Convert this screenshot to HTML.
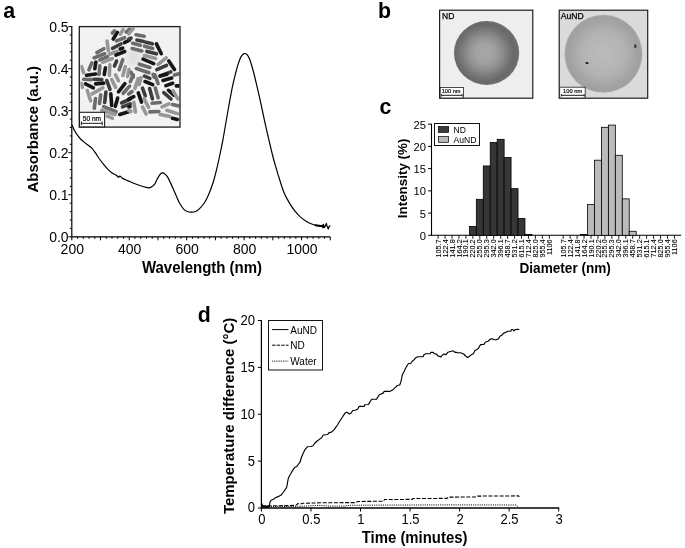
<!DOCTYPE html>
<html><head><meta charset="utf-8"><style>
html,body{margin:0;padding:0;background:#fff;}
svg{display:block;font-family:"Liberation Sans", sans-serif;will-change:transform;}
</style></head><body>
<svg width="685" height="548" viewBox="0 0 685 548">
<text x="3.2" y="17.7" font-size="21.3" text-anchor="start" font-weight="bold" fill="#000" >a</text>
<line x1="71.8" y1="26.1" x2="71.8" y2="237.3" stroke="#000" stroke-width="1.2" />
<line x1="71.3" y1="236.8" x2="330.28" y2="236.8" stroke="#000" stroke-width="1.2" />
<line x1="68.3" y1="236.8" x2="71.8" y2="236.8" stroke="#000" stroke-width="1" />
<line x1="69.8" y1="228.39" x2="71.8" y2="228.39" stroke="#000" stroke-width="1" />
<line x1="69.8" y1="219.98" x2="71.8" y2="219.98" stroke="#000" stroke-width="1" />
<line x1="69.8" y1="211.58" x2="71.8" y2="211.58" stroke="#000" stroke-width="1" />
<line x1="69.8" y1="203.17" x2="71.8" y2="203.17" stroke="#000" stroke-width="1" />
<line x1="68.3" y1="194.76" x2="71.8" y2="194.76" stroke="#000" stroke-width="1" />
<line x1="69.8" y1="186.35" x2="71.8" y2="186.35" stroke="#000" stroke-width="1" />
<line x1="69.8" y1="177.94" x2="71.8" y2="177.94" stroke="#000" stroke-width="1" />
<line x1="69.8" y1="169.54" x2="71.8" y2="169.54" stroke="#000" stroke-width="1" />
<line x1="69.8" y1="161.13" x2="71.8" y2="161.13" stroke="#000" stroke-width="1" />
<line x1="68.3" y1="152.72" x2="71.8" y2="152.72" stroke="#000" stroke-width="1" />
<line x1="69.8" y1="144.31" x2="71.8" y2="144.31" stroke="#000" stroke-width="1" />
<line x1="69.8" y1="135.9" x2="71.8" y2="135.9" stroke="#000" stroke-width="1" />
<line x1="69.8" y1="127.5" x2="71.8" y2="127.5" stroke="#000" stroke-width="1" />
<line x1="69.8" y1="119.09" x2="71.8" y2="119.09" stroke="#000" stroke-width="1" />
<line x1="68.3" y1="110.68" x2="71.8" y2="110.68" stroke="#000" stroke-width="1" />
<line x1="69.8" y1="102.27" x2="71.8" y2="102.27" stroke="#000" stroke-width="1" />
<line x1="69.8" y1="93.86" x2="71.8" y2="93.86" stroke="#000" stroke-width="1" />
<line x1="69.8" y1="85.46" x2="71.8" y2="85.46" stroke="#000" stroke-width="1" />
<line x1="69.8" y1="77.05" x2="71.8" y2="77.05" stroke="#000" stroke-width="1" />
<line x1="68.3" y1="68.64" x2="71.8" y2="68.64" stroke="#000" stroke-width="1" />
<line x1="69.8" y1="60.23" x2="71.8" y2="60.23" stroke="#000" stroke-width="1" />
<line x1="69.8" y1="51.82" x2="71.8" y2="51.82" stroke="#000" stroke-width="1" />
<line x1="69.8" y1="43.42" x2="71.8" y2="43.42" stroke="#000" stroke-width="1" />
<line x1="69.8" y1="35.01" x2="71.8" y2="35.01" stroke="#000" stroke-width="1" />
<line x1="68.3" y1="26.6" x2="71.8" y2="26.6" stroke="#000" stroke-width="1" />
<line x1="71.8" y1="236.8" x2="71.8" y2="240.3" stroke="#000" stroke-width="1" />
<line x1="77.54" y1="236.8" x2="77.54" y2="238.8" stroke="#000" stroke-width="1" />
<line x1="83.29" y1="236.8" x2="83.29" y2="238.8" stroke="#000" stroke-width="1" />
<line x1="89.03" y1="236.8" x2="89.03" y2="238.8" stroke="#000" stroke-width="1" />
<line x1="94.78" y1="236.8" x2="94.78" y2="238.8" stroke="#000" stroke-width="1" />
<line x1="100.52" y1="236.8" x2="100.52" y2="240.3" stroke="#000" stroke-width="1" />
<line x1="106.26" y1="236.8" x2="106.26" y2="238.8" stroke="#000" stroke-width="1" />
<line x1="112.01" y1="236.8" x2="112.01" y2="238.8" stroke="#000" stroke-width="1" />
<line x1="117.75" y1="236.8" x2="117.75" y2="238.8" stroke="#000" stroke-width="1" />
<line x1="123.5" y1="236.8" x2="123.5" y2="238.8" stroke="#000" stroke-width="1" />
<line x1="129.24" y1="236.8" x2="129.24" y2="240.3" stroke="#000" stroke-width="1" />
<line x1="134.98" y1="236.8" x2="134.98" y2="238.8" stroke="#000" stroke-width="1" />
<line x1="140.73" y1="236.8" x2="140.73" y2="238.8" stroke="#000" stroke-width="1" />
<line x1="146.47" y1="236.8" x2="146.47" y2="238.8" stroke="#000" stroke-width="1" />
<line x1="152.22" y1="236.8" x2="152.22" y2="238.8" stroke="#000" stroke-width="1" />
<line x1="157.96" y1="236.8" x2="157.96" y2="240.3" stroke="#000" stroke-width="1" />
<line x1="163.7" y1="236.8" x2="163.7" y2="238.8" stroke="#000" stroke-width="1" />
<line x1="169.45" y1="236.8" x2="169.45" y2="238.8" stroke="#000" stroke-width="1" />
<line x1="175.19" y1="236.8" x2="175.19" y2="238.8" stroke="#000" stroke-width="1" />
<line x1="180.94" y1="236.8" x2="180.94" y2="238.8" stroke="#000" stroke-width="1" />
<line x1="186.68" y1="236.8" x2="186.68" y2="240.3" stroke="#000" stroke-width="1" />
<line x1="192.42" y1="236.8" x2="192.42" y2="238.8" stroke="#000" stroke-width="1" />
<line x1="198.17" y1="236.8" x2="198.17" y2="238.8" stroke="#000" stroke-width="1" />
<line x1="203.91" y1="236.8" x2="203.91" y2="238.8" stroke="#000" stroke-width="1" />
<line x1="209.66" y1="236.8" x2="209.66" y2="238.8" stroke="#000" stroke-width="1" />
<line x1="215.4" y1="236.8" x2="215.4" y2="240.3" stroke="#000" stroke-width="1" />
<line x1="221.14" y1="236.8" x2="221.14" y2="238.8" stroke="#000" stroke-width="1" />
<line x1="226.89" y1="236.8" x2="226.89" y2="238.8" stroke="#000" stroke-width="1" />
<line x1="232.63" y1="236.8" x2="232.63" y2="238.8" stroke="#000" stroke-width="1" />
<line x1="238.38" y1="236.8" x2="238.38" y2="238.8" stroke="#000" stroke-width="1" />
<line x1="244.12" y1="236.8" x2="244.12" y2="240.3" stroke="#000" stroke-width="1" />
<line x1="249.86" y1="236.8" x2="249.86" y2="238.8" stroke="#000" stroke-width="1" />
<line x1="255.61" y1="236.8" x2="255.61" y2="238.8" stroke="#000" stroke-width="1" />
<line x1="261.35" y1="236.8" x2="261.35" y2="238.8" stroke="#000" stroke-width="1" />
<line x1="267.1" y1="236.8" x2="267.1" y2="238.8" stroke="#000" stroke-width="1" />
<line x1="272.84" y1="236.8" x2="272.84" y2="240.3" stroke="#000" stroke-width="1" />
<line x1="278.58" y1="236.8" x2="278.58" y2="238.8" stroke="#000" stroke-width="1" />
<line x1="284.33" y1="236.8" x2="284.33" y2="238.8" stroke="#000" stroke-width="1" />
<line x1="290.07" y1="236.8" x2="290.07" y2="238.8" stroke="#000" stroke-width="1" />
<line x1="295.82" y1="236.8" x2="295.82" y2="238.8" stroke="#000" stroke-width="1" />
<line x1="301.56" y1="236.8" x2="301.56" y2="240.3" stroke="#000" stroke-width="1" />
<line x1="307.3" y1="236.8" x2="307.3" y2="238.8" stroke="#000" stroke-width="1" />
<line x1="313.05" y1="236.8" x2="313.05" y2="238.8" stroke="#000" stroke-width="1" />
<line x1="318.79" y1="236.8" x2="318.79" y2="238.8" stroke="#000" stroke-width="1" />
<line x1="324.54" y1="236.8" x2="324.54" y2="238.8" stroke="#000" stroke-width="1" />
<line x1="330.28" y1="236.8" x2="330.28" y2="240.3" stroke="#000" stroke-width="1" />
<text x="68.6" y="242" font-size="14" text-anchor="end" fill="#000" >0.0</text>
<text x="68.6" y="199.96" font-size="14" text-anchor="end" fill="#000" >0.1</text>
<text x="68.6" y="157.92" font-size="14" text-anchor="end" fill="#000" >0.2</text>
<text x="68.6" y="115.88" font-size="14" text-anchor="end" fill="#000" >0.3</text>
<text x="68.6" y="73.84" font-size="14" text-anchor="end" fill="#000" >0.4</text>
<text x="68.6" y="31.8" font-size="14" text-anchor="end" fill="#000" >0.5</text>
<text x="72.3" y="253.6" font-size="14" text-anchor="middle" fill="#000" >200</text>
<text x="129.74" y="253.6" font-size="14" text-anchor="middle" fill="#000" >400</text>
<text x="187.18" y="253.6" font-size="14" text-anchor="middle" fill="#000" >600</text>
<text x="244.62" y="253.6" font-size="14" text-anchor="middle" fill="#000" >800</text>
<text x="302.06" y="253.6" font-size="14" text-anchor="middle" fill="#000" >1000</text>
<text x="0" y="0" font-size="15" text-anchor="middle" font-weight="bold" transform="translate(202 273.3) scale(1 1.06)" fill="#000" >Wavelength (nm)</text>
<text x="0" y="0" font-size="15" text-anchor="middle" font-weight="bold" transform="translate(38.3 129.2) rotate(-90) scale(1 0.94)" fill="#000" >Absorbance (a.u.)</text>
<path d="M72.1 125.08 C72.45 125.91 73.4 128.49 74.2 130.04 C75 131.59 75.88 132.95 76.9 134.4 C77.92 135.85 79.05 137.39 80.3 138.72 C81.55 140.05 83.03 141.25 84.4 142.36 C85.77 143.48 87.25 144.44 88.5 145.41 C89.75 146.38 90.75 146.92 91.9 148.18 C93.05 149.44 94.13 151.14 95.4 152.95 C96.67 154.75 98.13 157.1 99.5 159.01 C100.87 160.92 102.23 162.71 103.6 164.39 C104.97 166.07 106.33 167.69 107.7 169.07 C109.07 170.45 110.43 171.67 111.8 172.67 C113.17 173.67 114.95 174.44 115.9 175.05 C116.85 175.66 117.07 175.93 117.5 176.3 C117.93 176.68 118.15 177.32 118.5 177.3 C118.85 177.28 119.08 176.2 119.6 176.2 C120.12 176.2 121.08 176.94 121.6 177.3 C122.12 177.66 121.6 177.76 122.7 178.35 C123.8 178.94 126.37 180.04 128.2 180.86 C130.03 181.68 131.88 182.53 133.7 183.27 C135.52 184.01 137.28 184.66 139.1 185.28 C140.92 185.9 143 186.55 144.6 186.98 C146.2 187.41 147.57 187.83 148.7 187.85 C149.83 187.87 150.37 187.76 151.4 187.09 C152.43 186.42 153.97 185.09 154.9 183.81 C155.83 182.53 156.17 180.95 157 179.42 C157.83 177.88 159.02 175.68 159.9 174.6 C160.78 173.52 161.52 173.11 162.3 172.96 C163.08 172.81 163.73 173.06 164.6 173.72 C165.47 174.38 166.53 175.46 167.5 176.95 C168.47 178.44 169.42 180.58 170.4 182.63 C171.38 184.68 172.42 187.05 173.4 189.27 C174.38 191.5 175.23 193.61 176.3 195.98 C177.37 198.35 178.53 201.25 179.8 203.47 C181.07 205.69 182.63 207.97 183.9 209.32 C185.17 210.67 186.23 211.08 187.4 211.55 C188.57 212.02 189.63 212.11 190.9 212.15 C192.17 212.19 193.63 212.3 195 211.8 C196.37 211.3 197.65 210.49 199.1 209.15 C200.55 207.81 202.35 205.65 203.7 203.75 C205.05 201.85 206.03 200.15 207.21 197.74 C208.39 195.33 209.62 192.33 210.75 189.29 C211.88 186.25 212.99 182.95 214 179.5 C215.01 176.05 215.82 172.77 216.81 168.6 C217.8 164.43 218.9 159.47 219.95 154.5 C221 149.53 222.13 143.97 223.1 138.8 C224.06 133.63 224.9 128.38 225.74 123.5 C226.59 118.62 227.38 113.98 228.17 109.5 C228.96 105.02 229.71 100.78 230.5 96.6 C231.29 92.42 232.09 88.2 232.92 84.4 C233.74 80.6 234.59 77.13 235.45 73.8 C236.31 70.47 237.13 67.27 238.07 64.4 C239.01 61.53 240.07 58.4 241.09 56.6 C242.11 54.8 243.16 53.93 244.16 53.6 C245.16 53.27 246.14 53.67 247.06 54.6 C247.98 55.53 248.85 57.22 249.67 59.2 C250.49 61.18 251.19 63.78 251.98 66.5 C252.77 69.22 253.56 72.18 254.39 75.5 C255.22 78.82 256.1 82.7 256.97 86.4 C257.84 90.1 258.73 93.77 259.61 97.7 C260.49 101.63 261.36 105.85 262.25 110 C263.14 114.15 264.04 118.5 264.94 122.6 C265.84 126.7 266.73 130.7 267.63 134.6 C268.53 138.5 269.42 142.18 270.34 146 C271.25 149.82 272.16 153.83 273.12 157.5 C274.08 161.17 275.08 164.45 276.12 168 C277.16 171.55 278.06 174.77 279.35 178.8 C280.64 182.83 282.29 188.4 283.84 192.2 C285.39 196 286.9 198.62 288.63 201.6 C290.36 204.58 292.21 207.52 294.2 210.1 C296.19 212.68 298.42 215.17 300.54 217.1 C302.66 219.03 304.81 220.47 306.9 221.7 C308.99 222.93 311.28 223.85 313.1 224.5 C314.92 225.15 316.5 225.28 317.8 225.6 C319.1 225.92 320.38 226.27 320.9 226.4" fill="none" stroke="#000" stroke-width="1.2"/>
<path d="M315.5 225.3 L322.5 226.2" stroke="#000" stroke-width="2.1" stroke-linecap="round"/>
<polyline points="320.9,226.4 322.3,225.2 323.0,227.8 323.5,224.3 324.2,227.5 325.0,226.8 326.3,223.4 327.2,226.4 328.3,229.0 329.2,226.2 330.6,226.0" fill="none" stroke="#000" stroke-width="1.2" stroke-linejoin="round"/>
<rect x="79.3" y="26.6" width="100.7" height="100.5" fill="#f2f2f2"/>
<defs><clipPath id="ic"><rect x="80.4" y="27.5" width="99" height="98.6"/></clipPath><filter id="sm" x="-50%" y="-50%" width="200%" height="200%"><feGaussianBlur stdDeviation="3"/></filter><filter id="rb" x="-5%" y="-5%" width="110%" height="110%"><feGaussianBlur stdDeviation="0.35"/></filter></defs>
<g clip-path="url(#ic)"><ellipse cx="133" cy="57" rx="8" ry="9" fill="#dedede" filter="url(#sm)"/><g filter="url(#rb)" stroke-linecap="round" stroke-width="3.6">
<line x1="113.2" y1="39" x2="117.4" y2="32.4" stroke="#161616"/>
<line x1="112.4" y1="33" x2="114.4" y2="30.9" stroke="#6c6c6c"/>
<line x1="120.3" y1="34.2" x2="123.1" y2="29.6" stroke="#979797"/>
<line x1="126.2" y1="32" x2="129.6" y2="29" stroke="#6c6c6c"/>
<line x1="116.4" y1="40.9" x2="124.6" y2="37.7" stroke="#6c6c6c"/>
<line x1="124.4" y1="42.7" x2="129.4" y2="40.2" stroke="#161616"/>
<line x1="107.1" y1="41.1" x2="108.3" y2="50.7" stroke="#979797"/>
<line x1="112.5" y1="48.4" x2="120.9" y2="44" stroke="#3d3d3d"/>
<line x1="120.2" y1="49" x2="122.7" y2="48.1" stroke="#161616"/>
<line x1="96.9" y1="52.6" x2="103.8" y2="48.7" stroke="#6c6c6c"/>
<line x1="94.1" y1="57.9" x2="104.7" y2="53.8" stroke="#6c6c6c"/>
<line x1="99.8" y1="59.8" x2="107.6" y2="56.7" stroke="#6c6c6c"/>
<line x1="102.6" y1="62.2" x2="112.3" y2="58.6" stroke="#979797"/>
<line x1="109.3" y1="54.2" x2="117" y2="51.4" stroke="#979797"/>
<line x1="115.9" y1="55.1" x2="124.7" y2="51.5" stroke="#161616"/>
<line x1="114.5" y1="66" x2="116.6" y2="61" stroke="#3d3d3d"/>
<line x1="119.2" y1="69.7" x2="122.8" y2="59.6" stroke="#6c6c6c"/>
<line x1="88.9" y1="69.8" x2="91.9" y2="62.9" stroke="#6c6c6c"/>
<line x1="94.8" y1="68.8" x2="95.9" y2="62" stroke="#161616"/>
<line x1="99" y1="74.4" x2="99.8" y2="65.8" stroke="#6c6c6c"/>
<line x1="104.3" y1="74.4" x2="105.4" y2="67.7" stroke="#161616"/>
<line x1="109.4" y1="75.4" x2="109.8" y2="64.8" stroke="#979797"/>
<line x1="81.6" y1="66.7" x2="83.5" y2="72.6" stroke="#979797"/>
<line x1="86.5" y1="75.2" x2="95.7" y2="74" stroke="#161616"/>
<line x1="122.9" y1="75.4" x2="125.3" y2="66.7" stroke="#979797"/>
<line x1="127.6" y1="76.4" x2="129.1" y2="69.6" stroke="#979797"/>
<line x1="128.6" y1="33.9" x2="133.1" y2="28.6" stroke="#979797"/>
<line x1="136" y1="34.7" x2="144.2" y2="36.3" stroke="#6c6c6c"/>
<line x1="136.9" y1="40" x2="143.7" y2="41.5" stroke="#3d3d3d"/>
<line x1="146" y1="42.3" x2="152.3" y2="43.8" stroke="#3d3d3d"/>
<line x1="132.7" y1="43.3" x2="140.4" y2="45.2" stroke="#6c6c6c"/>
<line x1="144.5" y1="46.2" x2="152.8" y2="48.5" stroke="#6c6c6c"/>
<line x1="132.2" y1="48.5" x2="141.8" y2="50.9" stroke="#6c6c6c"/>
<line x1="146.9" y1="51.4" x2="156.5" y2="53.8" stroke="#3d3d3d"/>
<line x1="156.4" y1="43.9" x2="161.3" y2="53.7" stroke="#161616"/>
<line x1="144.5" y1="55.6" x2="155.6" y2="58.5" stroke="#979797"/>
<line x1="143.1" y1="59.1" x2="153.7" y2="63.6" stroke="#161616"/>
<line x1="158.1" y1="64.3" x2="166.2" y2="57.9" stroke="#979797"/>
<line x1="168.8" y1="60.9" x2="174.5" y2="69.4" stroke="#161616"/>
<line x1="139.3" y1="64.2" x2="149.9" y2="67.5" stroke="#6c6c6c"/>
<line x1="156.8" y1="69.7" x2="166.6" y2="65.3" stroke="#3d3d3d"/>
<line x1="136.4" y1="68.5" x2="149" y2="72.7" stroke="#6c6c6c"/>
<line x1="160.1" y1="76" x2="170.8" y2="71.9" stroke="#3d3d3d"/>
<line x1="153" y1="74.3" x2="154.2" y2="77.2" stroke="#6c6c6c"/>
<line x1="131.2" y1="72.4" x2="133.3" y2="77.2" stroke="#6c6c6c"/>
<line x1="174.4" y1="75.1" x2="179.1" y2="73.7" stroke="#6c6c6c"/>
<line x1="128.8" y1="39" x2="131" y2="38.2" stroke="#3d3d3d"/>
<line x1="83.7" y1="79.3" x2="91.4" y2="79.6" stroke="#6c6c6c"/>
<line x1="94.1" y1="79.3" x2="101.8" y2="79.6" stroke="#3d3d3d"/>
<line x1="85.5" y1="83.9" x2="93.4" y2="87.8" stroke="#161616"/>
<line x1="95.6" y1="83.9" x2="103.7" y2="83.1" stroke="#161616"/>
<line x1="81.2" y1="83.4" x2="82.5" y2="87.4" stroke="#979797"/>
<line x1="106.8" y1="80.5" x2="110" y2="89.3" stroke="#3d3d3d"/>
<line x1="111.7" y1="79.5" x2="115.6" y2="87.4" stroke="#979797"/>
<line x1="115.5" y1="74.8" x2="118.4" y2="80.8" stroke="#979797"/>
<line x1="118.5" y1="91.8" x2="124.9" y2="83.7" stroke="#161616"/>
<line x1="123.2" y1="93.3" x2="129.6" y2="86.1" stroke="#6c6c6c"/>
<line x1="87.3" y1="90.5" x2="90.6" y2="100.7" stroke="#979797"/>
<line x1="92.1" y1="93.9" x2="102.9" y2="87.7" stroke="#979797"/>
<line x1="95.5" y1="98.6" x2="94.3" y2="108.2" stroke="#6c6c6c"/>
<line x1="100.7" y1="94.8" x2="99.5" y2="103.5" stroke="#6c6c6c"/>
<line x1="105.9" y1="92" x2="104.7" y2="102.5" stroke="#3d3d3d"/>
<line x1="110.8" y1="93.9" x2="111.7" y2="105.4" stroke="#161616"/>
<line x1="117.7" y1="98.1" x2="115.3" y2="106.3" stroke="#161616"/>
<line x1="103.6" y1="106.6" x2="116.1" y2="111.6" stroke="#6c6c6c"/>
<line x1="101.7" y1="110.3" x2="115.1" y2="114.5" stroke="#979797"/>
<line x1="119.7" y1="114.5" x2="130.1" y2="111.3" stroke="#161616"/>
<line x1="121.6" y1="103" x2="130.2" y2="99" stroke="#3d3d3d"/>
<line x1="107.3" y1="116.1" x2="112.3" y2="118.2" stroke="#979797"/>
<line x1="122.5" y1="106.9" x2="130.2" y2="103.8" stroke="#3d3d3d"/>
<line x1="130.3" y1="81.7" x2="133.3" y2="74.8" stroke="#6c6c6c"/>
<line x1="134.9" y1="88.3" x2="138.2" y2="78.6" stroke="#979797"/>
<line x1="139.2" y1="84.5" x2="141" y2="77.7" stroke="#979797"/>
<line x1="144.5" y1="76.2" x2="149.9" y2="78.4" stroke="#3d3d3d"/>
<line x1="145" y1="81.5" x2="152.8" y2="84.6" stroke="#161616"/>
<line x1="154.9" y1="74.8" x2="158.1" y2="83.6" stroke="#6c6c6c"/>
<line x1="160.2" y1="76.1" x2="167" y2="74.2" stroke="#161616"/>
<line x1="163" y1="80.4" x2="171.7" y2="78" stroke="#161616"/>
<line x1="165.9" y1="85.6" x2="172.7" y2="83.3" stroke="#161616"/>
<line x1="176.3" y1="85.9" x2="179.1" y2="85.9" stroke="#161616"/>
<line x1="142.5" y1="88.1" x2="145.3" y2="95.9" stroke="#3d3d3d"/>
<line x1="138.3" y1="92.9" x2="141.5" y2="102.1" stroke="#161616"/>
<line x1="149.6" y1="88.6" x2="152.4" y2="98.8" stroke="#3d3d3d"/>
<line x1="155.3" y1="88.1" x2="158.1" y2="97.8" stroke="#6c6c6c"/>
<line x1="163.8" y1="92.6" x2="171" y2="99" stroke="#3d3d3d"/>
<line x1="168.5" y1="90.3" x2="173.8" y2="95.2" stroke="#161616"/>
<line x1="173.1" y1="90.9" x2="177.8" y2="98.8" stroke="#979797"/>
<line x1="128.7" y1="93.9" x2="132" y2="91.6" stroke="#6c6c6c"/>
<line x1="128.8" y1="99.2" x2="133.8" y2="96.7" stroke="#161616"/>
<line x1="133.8" y1="102.4" x2="135.4" y2="112" stroke="#979797"/>
<line x1="144.1" y1="98.5" x2="148.5" y2="107.4" stroke="#979797"/>
<line x1="142.6" y1="107.1" x2="146.1" y2="114" stroke="#979797"/>
<line x1="152.1" y1="103.3" x2="160.3" y2="102.5" stroke="#6c6c6c"/>
<line x1="162" y1="106.8" x2="168.9" y2="103.8" stroke="#979797"/>
<line x1="149.8" y1="111.9" x2="158.9" y2="111.5" stroke="#6c6c6c"/>
<line x1="160.2" y1="114.5" x2="169.8" y2="116.5" stroke="#979797"/>
<line x1="166.8" y1="110.3" x2="177.4" y2="113.6" stroke="#979797"/>
<line x1="172.5" y1="104.6" x2="179.1" y2="106.1" stroke="#6c6c6c"/>
<line x1="172.5" y1="118.3" x2="177.4" y2="119.4" stroke="#161616"/>
<line x1="128.9" y1="106.9" x2="130" y2="106.5" stroke="#161616"/>
<line x1="128.8" y1="110.5" x2="131" y2="111.5" stroke="#979797"/>
</g></g>
<rect x="79.3" y="26.6" width="100.7" height="100.5" fill="none" stroke="#1e1e1e" stroke-width="1.3"/>
<rect x="79.5" y="112.3" width="25.1" height="14.6" fill="#fff" stroke="#1e1e1e" stroke-width="1.1"/>
<text x="82.8" y="120.8" font-size="7" text-anchor="start" fill="#000" stroke="#000" stroke-width="0.2" textLength="18.3" lengthAdjust="spacingAndGlyphs">50 nm</text>
<line x1="81.4" y1="123.3" x2="102.2" y2="123.3" stroke="#000" stroke-width="0.9" />
<line x1="81.4" y1="121.4" x2="81.4" y2="125.2" stroke="#000" stroke-width="0.9" />
<line x1="102.2" y1="121.4" x2="102.2" y2="125.2" stroke="#000" stroke-width="0.9" />
<text x="378" y="18.1" font-size="21.3" text-anchor="start" font-weight="bold" fill="#000" >b</text>
<defs><radialGradient id="gnd" cx="0.47" cy="0.5" r="0.5"><stop offset="0" stop-color="#a9a9a9"/><stop offset="0.3" stop-color="#a1a1a1"/><stop offset="0.55" stop-color="#8d8d8d"/><stop offset="0.75" stop-color="#767676"/><stop offset="0.9" stop-color="#696969"/><stop offset="1" stop-color="#6e6e6e"/></radialGradient><radialGradient id="gau" cx="0.5" cy="0.5" r="0.5"><stop offset="0" stop-color="#bcbcbc"/><stop offset="0.55" stop-color="#b3b3b3"/><stop offset="0.85" stop-color="#a3a3a3"/><stop offset="0.96" stop-color="#a0a0a0"/><stop offset="1" stop-color="#b0b0b0"/></radialGradient><filter id="soft" x="-10%" y="-10%" width="120%" height="120%"><feGaussianBlur stdDeviation="0.55"/></filter></defs>
<rect x="439.6" y="10.2" width="93.2" height="88" fill="#eeeeee" stroke="#1e1e1e" stroke-width="1.2"/>
<ellipse cx="486.6" cy="53" rx="32.6" ry="31.9" fill="url(#gnd)" filter="url(#soft)"/>
<text x="442.1" y="18.8" font-size="8.3" text-anchor="start" fill="#000" stroke="#000" stroke-width="0.25" textLength="12.3" lengthAdjust="spacingAndGlyphs">ND</text>
<rect x="440.2" y="87.4" width="23.3" height="10.6" fill="#fff" stroke="#1e1e1e" stroke-width="0.8"/>
<text x="441.7" y="93.3" font-size="5.9" text-anchor="start" fill="#000" stroke="#000" stroke-width="0.18" textLength="18.8" lengthAdjust="spacingAndGlyphs">100 nm</text>
<line x1="441.6" y1="95.3" x2="462.2" y2="95.3" stroke="#000" stroke-width="0.9" />
<line x1="441.6" y1="94" x2="441.6" y2="96.6" stroke="#000" stroke-width="0.8" />
<line x1="462.2" y1="94" x2="462.2" y2="96.6" stroke="#000" stroke-width="0.8" />
<rect x="559.2" y="10.2" width="88.5" height="88" fill="#dadada" stroke="#1e1e1e" stroke-width="1.2"/>
<circle cx="603.4" cy="53.8" r="39" fill="url(#gau)" filter="url(#soft)"/>
<ellipse cx="586.9" cy="63" rx="1.5" ry="1.1" fill="#111"/>
<ellipse cx="588.9" cy="63.3" rx="0.6" ry="0.4" fill="#333"/>
<ellipse cx="635.3" cy="46.3" rx="1.1" ry="2" fill="#333"/>
<text x="560.8" y="19.1" font-size="8.3" text-anchor="start" fill="#000" stroke="#000" stroke-width="0.25" textLength="23" lengthAdjust="spacingAndGlyphs">AuND</text>
<rect x="559.7" y="87.2" width="25.5" height="10.8" fill="#fff" stroke="#1e1e1e" stroke-width="0.8"/>
<text x="563.1" y="93.3" font-size="5.9" text-anchor="start" fill="#000" stroke="#000" stroke-width="0.18" textLength="19.2" lengthAdjust="spacingAndGlyphs">100 nm</text>
<line x1="561.4" y1="95.3" x2="584.2" y2="95.3" stroke="#000" stroke-width="0.9" />
<line x1="561.4" y1="94" x2="561.4" y2="96.6" stroke="#000" stroke-width="0.8" />
<line x1="584.2" y1="94" x2="584.2" y2="96.6" stroke="#000" stroke-width="0.8" />
<text x="379.4" y="114.3" font-size="21.3" text-anchor="start" font-weight="bold" fill="#000" >c</text>
<line x1="431.5" y1="123.7" x2="431.5" y2="235.8" stroke="#000" stroke-width="1.1" />
<line x1="431" y1="235.3" x2="681.2" y2="235.3" stroke="#000" stroke-width="1.1" />
<line x1="428.1" y1="235.3" x2="431.5" y2="235.3" stroke="#000" stroke-width="1" />
<text x="426" y="239.9" font-size="11.2" text-anchor="end" fill="#000" >0</text>
<line x1="428.1" y1="213.08" x2="431.5" y2="213.08" stroke="#000" stroke-width="1" />
<text x="426" y="217.68" font-size="11.2" text-anchor="end" fill="#000" >5</text>
<line x1="428.1" y1="190.86" x2="431.5" y2="190.86" stroke="#000" stroke-width="1" />
<text x="426" y="195.46" font-size="11.2" text-anchor="end" fill="#000" >10</text>
<line x1="428.1" y1="168.64" x2="431.5" y2="168.64" stroke="#000" stroke-width="1" />
<text x="426" y="173.24" font-size="11.2" text-anchor="end" fill="#000" >15</text>
<line x1="428.1" y1="146.42" x2="431.5" y2="146.42" stroke="#000" stroke-width="1" />
<text x="426" y="151.02" font-size="11.2" text-anchor="end" fill="#000" >20</text>
<line x1="428.1" y1="124.2" x2="431.5" y2="124.2" stroke="#000" stroke-width="1" />
<text x="426" y="128.8" font-size="11.2" text-anchor="end" fill="#000" >25</text>
<line x1="438.1" y1="235.3" x2="438.1" y2="238.8" stroke="#000" stroke-width="0.9" />
<text x="440.7" y="239.3" font-size="7.3" text-anchor="end" transform="rotate(-90 440.7 239.3)" fill="#000" stroke="#000" stroke-width="0.1">105.7</text>
<line x1="445.05" y1="235.3" x2="445.05" y2="238.8" stroke="#000" stroke-width="0.9" />
<text x="447.65" y="239.3" font-size="7.3" text-anchor="end" transform="rotate(-90 447.65 239.3)" fill="#000" stroke="#000" stroke-width="0.1">122.4</text>
<line x1="452" y1="235.3" x2="452" y2="238.8" stroke="#000" stroke-width="0.9" />
<text x="454.6" y="239.3" font-size="7.3" text-anchor="end" transform="rotate(-90 454.6 239.3)" fill="#000" stroke="#000" stroke-width="0.1">141.8</text>
<line x1="458.95" y1="235.3" x2="458.95" y2="238.8" stroke="#000" stroke-width="0.9" />
<text x="461.55" y="239.3" font-size="7.3" text-anchor="end" transform="rotate(-90 461.55 239.3)" fill="#000" stroke="#000" stroke-width="0.1">164.2</text>
<line x1="465.9" y1="235.3" x2="465.9" y2="238.8" stroke="#000" stroke-width="0.9" />
<text x="468.5" y="239.3" font-size="7.3" text-anchor="end" transform="rotate(-90 468.5 239.3)" fill="#000" stroke="#000" stroke-width="0.1">190.1</text>
<line x1="472.85" y1="235.3" x2="472.85" y2="238.8" stroke="#000" stroke-width="0.9" />
<text x="475.45" y="239.3" font-size="7.3" text-anchor="end" transform="rotate(-90 475.45 239.3)" fill="#000" stroke="#000" stroke-width="0.1">220.2</text>
<line x1="479.8" y1="235.3" x2="479.8" y2="238.8" stroke="#000" stroke-width="0.9" />
<text x="482.4" y="239.3" font-size="7.3" text-anchor="end" transform="rotate(-90 482.4 239.3)" fill="#000" stroke="#000" stroke-width="0.1">255.0</text>
<line x1="486.75" y1="235.3" x2="486.75" y2="238.8" stroke="#000" stroke-width="0.9" />
<text x="489.35" y="239.3" font-size="7.3" text-anchor="end" transform="rotate(-90 489.35 239.3)" fill="#000" stroke="#000" stroke-width="0.1">295.3</text>
<line x1="493.7" y1="235.3" x2="493.7" y2="238.8" stroke="#000" stroke-width="0.9" />
<text x="496.3" y="239.3" font-size="7.3" text-anchor="end" transform="rotate(-90 496.3 239.3)" fill="#000" stroke="#000" stroke-width="0.1">342.0</text>
<line x1="500.65" y1="235.3" x2="500.65" y2="238.8" stroke="#000" stroke-width="0.9" />
<text x="503.25" y="239.3" font-size="7.3" text-anchor="end" transform="rotate(-90 503.25 239.3)" fill="#000" stroke="#000" stroke-width="0.1">396.1</text>
<line x1="507.6" y1="235.3" x2="507.6" y2="238.8" stroke="#000" stroke-width="0.9" />
<text x="510.2" y="239.3" font-size="7.3" text-anchor="end" transform="rotate(-90 510.2 239.3)" fill="#000" stroke="#000" stroke-width="0.1">458.7</text>
<line x1="514.55" y1="235.3" x2="514.55" y2="238.8" stroke="#000" stroke-width="0.9" />
<text x="517.15" y="239.3" font-size="7.3" text-anchor="end" transform="rotate(-90 517.15 239.3)" fill="#000" stroke="#000" stroke-width="0.1">531.2</text>
<line x1="521.5" y1="235.3" x2="521.5" y2="238.8" stroke="#000" stroke-width="0.9" />
<text x="524.1" y="239.3" font-size="7.3" text-anchor="end" transform="rotate(-90 524.1 239.3)" fill="#000" stroke="#000" stroke-width="0.1">615.1</text>
<line x1="528.45" y1="235.3" x2="528.45" y2="238.8" stroke="#000" stroke-width="0.9" />
<text x="531.05" y="239.3" font-size="7.3" text-anchor="end" transform="rotate(-90 531.05 239.3)" fill="#000" stroke="#000" stroke-width="0.1">712.4</text>
<line x1="535.4" y1="235.3" x2="535.4" y2="238.8" stroke="#000" stroke-width="0.9" />
<text x="538" y="239.3" font-size="7.3" text-anchor="end" transform="rotate(-90 538 239.3)" fill="#000" stroke="#000" stroke-width="0.1">825.0</text>
<line x1="542.35" y1="235.3" x2="542.35" y2="238.8" stroke="#000" stroke-width="0.9" />
<text x="544.95" y="239.3" font-size="7.3" text-anchor="end" transform="rotate(-90 544.95 239.3)" fill="#000" stroke="#000" stroke-width="0.1">955.4</text>
<line x1="549.3" y1="235.3" x2="549.3" y2="238.8" stroke="#000" stroke-width="0.9" />
<text x="551.9" y="239.3" font-size="7.3" text-anchor="end" transform="rotate(-90 551.9 239.3)" fill="#000" stroke="#000" stroke-width="0.1">1106</text>
<line x1="563.2" y1="235.3" x2="563.2" y2="238.8" stroke="#000" stroke-width="0.9" />
<text x="565.8" y="239.3" font-size="7.3" text-anchor="end" transform="rotate(-90 565.8 239.3)" fill="#000" stroke="#000" stroke-width="0.1">105.7</text>
<line x1="570.15" y1="235.3" x2="570.15" y2="238.8" stroke="#000" stroke-width="0.9" />
<text x="572.75" y="239.3" font-size="7.3" text-anchor="end" transform="rotate(-90 572.75 239.3)" fill="#000" stroke="#000" stroke-width="0.1">122.4</text>
<line x1="577.1" y1="235.3" x2="577.1" y2="238.8" stroke="#000" stroke-width="0.9" />
<text x="579.7" y="239.3" font-size="7.3" text-anchor="end" transform="rotate(-90 579.7 239.3)" fill="#000" stroke="#000" stroke-width="0.1">141.8</text>
<line x1="584.05" y1="235.3" x2="584.05" y2="238.8" stroke="#000" stroke-width="0.9" />
<text x="586.65" y="239.3" font-size="7.3" text-anchor="end" transform="rotate(-90 586.65 239.3)" fill="#000" stroke="#000" stroke-width="0.1">164.2</text>
<line x1="591" y1="235.3" x2="591" y2="238.8" stroke="#000" stroke-width="0.9" />
<text x="593.6" y="239.3" font-size="7.3" text-anchor="end" transform="rotate(-90 593.6 239.3)" fill="#000" stroke="#000" stroke-width="0.1">190.1</text>
<line x1="597.95" y1="235.3" x2="597.95" y2="238.8" stroke="#000" stroke-width="0.9" />
<text x="600.55" y="239.3" font-size="7.3" text-anchor="end" transform="rotate(-90 600.55 239.3)" fill="#000" stroke="#000" stroke-width="0.1">220.2</text>
<line x1="604.9" y1="235.3" x2="604.9" y2="238.8" stroke="#000" stroke-width="0.9" />
<text x="607.5" y="239.3" font-size="7.3" text-anchor="end" transform="rotate(-90 607.5 239.3)" fill="#000" stroke="#000" stroke-width="0.1">255.0</text>
<line x1="611.85" y1="235.3" x2="611.85" y2="238.8" stroke="#000" stroke-width="0.9" />
<text x="614.45" y="239.3" font-size="7.3" text-anchor="end" transform="rotate(-90 614.45 239.3)" fill="#000" stroke="#000" stroke-width="0.1">295.3</text>
<line x1="618.8" y1="235.3" x2="618.8" y2="238.8" stroke="#000" stroke-width="0.9" />
<text x="621.4" y="239.3" font-size="7.3" text-anchor="end" transform="rotate(-90 621.4 239.3)" fill="#000" stroke="#000" stroke-width="0.1">342.0</text>
<line x1="625.75" y1="235.3" x2="625.75" y2="238.8" stroke="#000" stroke-width="0.9" />
<text x="628.35" y="239.3" font-size="7.3" text-anchor="end" transform="rotate(-90 628.35 239.3)" fill="#000" stroke="#000" stroke-width="0.1">396.1</text>
<line x1="632.7" y1="235.3" x2="632.7" y2="238.8" stroke="#000" stroke-width="0.9" />
<text x="635.3" y="239.3" font-size="7.3" text-anchor="end" transform="rotate(-90 635.3 239.3)" fill="#000" stroke="#000" stroke-width="0.1">458.7</text>
<line x1="639.65" y1="235.3" x2="639.65" y2="238.8" stroke="#000" stroke-width="0.9" />
<text x="642.25" y="239.3" font-size="7.3" text-anchor="end" transform="rotate(-90 642.25 239.3)" fill="#000" stroke="#000" stroke-width="0.1">531.2</text>
<line x1="646.6" y1="235.3" x2="646.6" y2="238.8" stroke="#000" stroke-width="0.9" />
<text x="649.2" y="239.3" font-size="7.3" text-anchor="end" transform="rotate(-90 649.2 239.3)" fill="#000" stroke="#000" stroke-width="0.1">615.1</text>
<line x1="653.55" y1="235.3" x2="653.55" y2="238.8" stroke="#000" stroke-width="0.9" />
<text x="656.15" y="239.3" font-size="7.3" text-anchor="end" transform="rotate(-90 656.15 239.3)" fill="#000" stroke="#000" stroke-width="0.1">712.4</text>
<line x1="660.5" y1="235.3" x2="660.5" y2="238.8" stroke="#000" stroke-width="0.9" />
<text x="663.1" y="239.3" font-size="7.3" text-anchor="end" transform="rotate(-90 663.1 239.3)" fill="#000" stroke="#000" stroke-width="0.1">825.0</text>
<line x1="667.45" y1="235.3" x2="667.45" y2="238.8" stroke="#000" stroke-width="0.9" />
<text x="670.05" y="239.3" font-size="7.3" text-anchor="end" transform="rotate(-90 670.05 239.3)" fill="#000" stroke="#000" stroke-width="0.1">955.4</text>
<line x1="674.4" y1="235.3" x2="674.4" y2="238.8" stroke="#000" stroke-width="0.9" />
<text x="677" y="239.3" font-size="7.3" text-anchor="end" transform="rotate(-90 677 239.3)" fill="#000" stroke="#000" stroke-width="0.1">1106</text>
<rect x="469.38" y="226.41" width="6.95" height="8.89" fill="#363636" stroke="#000" stroke-width="0.8"/>
<rect x="476.32" y="199.3" width="6.95" height="36" fill="#363636" stroke="#000" stroke-width="0.8"/>
<rect x="483.27" y="165.97" width="6.95" height="69.33" fill="#363636" stroke="#000" stroke-width="0.8"/>
<rect x="490.23" y="142.42" width="6.95" height="92.88" fill="#363636" stroke="#000" stroke-width="0.8"/>
<rect x="497.18" y="139.31" width="6.95" height="95.99" fill="#363636" stroke="#000" stroke-width="0.8"/>
<rect x="504.12" y="157.53" width="6.95" height="77.77" fill="#363636" stroke="#000" stroke-width="0.8"/>
<rect x="511.08" y="188.64" width="6.95" height="46.66" fill="#363636" stroke="#000" stroke-width="0.8"/>
<rect x="518.02" y="218.41" width="6.95" height="16.89" fill="#363636" stroke="#000" stroke-width="0.8"/>
<rect x="524.98" y="234.41" width="6.95" height="0.89" fill="#363636" stroke="#000" stroke-width="0.8"/>
<rect x="580.58" y="234.41" width="6.95" height="0.89" fill="#bbbbbb" stroke="#000" stroke-width="0.8"/>
<rect x="587.52" y="204.64" width="6.95" height="30.66" fill="#bbbbbb" stroke="#000" stroke-width="0.8"/>
<rect x="594.48" y="160.2" width="6.95" height="75.1" fill="#bbbbbb" stroke="#000" stroke-width="0.8"/>
<rect x="601.43" y="127.31" width="6.95" height="107.99" fill="#bbbbbb" stroke="#000" stroke-width="0.8"/>
<rect x="608.38" y="125.09" width="6.95" height="110.21" fill="#bbbbbb" stroke="#000" stroke-width="0.8"/>
<rect x="615.33" y="155.31" width="6.95" height="79.99" fill="#bbbbbb" stroke="#000" stroke-width="0.8"/>
<rect x="622.27" y="198.86" width="6.95" height="36.44" fill="#bbbbbb" stroke="#000" stroke-width="0.8"/>
<rect x="629.23" y="231.3" width="6.95" height="4" fill="#bbbbbb" stroke="#000" stroke-width="0.8"/>
<rect x="434.5" y="123.5" width="45" height="22" fill="#fff" stroke="#111" stroke-width="1"/>
<rect x="438.4" y="126.6" width="10.2" height="5.8" fill="#3a3a3a" stroke="#000" stroke-width="0.7"/>
<rect x="438.4" y="136.5" width="10.2" height="5.8" fill="#bbbbbb" stroke="#000" stroke-width="0.7"/>
<text x="0" y="0" font-size="8.6" text-anchor="start" transform="translate(453.5 133) scale(1 1.05)" fill="#000" >ND</text>
<text x="0" y="0" font-size="8.6" text-anchor="start" transform="translate(453.5 142.8) scale(1 1.05)" fill="#000" >AuND</text>
<text x="0" y="0" font-size="13.4" text-anchor="middle" font-weight="bold" transform="translate(406.6 178.4) rotate(-90) scale(1 0.93)" fill="#000" >Intensity (%)</text>
<text x="0" y="0" font-size="13.6" text-anchor="middle" font-weight="bold" transform="translate(565.2 272.5) scale(1 1.06)" fill="#000" >Diameter (nm)</text>
<text x="197.8" y="321.6" font-size="21.3" text-anchor="start" font-weight="bold" fill="#000" >d</text>
<line x1="261.4" y1="320" x2="261.4" y2="508.5" stroke="#000" stroke-width="1.2" />
<line x1="260.9" y1="508" x2="559.2" y2="508" stroke="#000" stroke-width="1.35" />
<line x1="257.9" y1="508" x2="261.4" y2="508" stroke="#000" stroke-width="1" />
<text x="0" y="0" font-size="13" text-anchor="end" transform="translate(255 512.4) scale(1 1.07)" fill="#000" >0</text>
<line x1="257.9" y1="461.12" x2="261.4" y2="461.12" stroke="#000" stroke-width="1" />
<text x="0" y="0" font-size="13" text-anchor="end" transform="translate(255 465.52) scale(1 1.07)" fill="#000" >5</text>
<line x1="257.9" y1="414.25" x2="261.4" y2="414.25" stroke="#000" stroke-width="1" />
<text x="0" y="0" font-size="13" text-anchor="end" transform="translate(255 418.65) scale(1 1.07)" fill="#000" >10</text>
<line x1="257.9" y1="367.38" x2="261.4" y2="367.38" stroke="#000" stroke-width="1" />
<text x="0" y="0" font-size="13" text-anchor="end" transform="translate(255 371.77) scale(1 1.07)" fill="#000" >15</text>
<line x1="257.9" y1="320.5" x2="261.4" y2="320.5" stroke="#000" stroke-width="1" />
<text x="0" y="0" font-size="13" text-anchor="end" transform="translate(255 324.9) scale(1 1.07)" fill="#000" >20</text>
<line x1="261.4" y1="508" x2="261.4" y2="511.5" stroke="#000" stroke-width="1" />
<text x="0" y="0" font-size="13" text-anchor="middle" transform="translate(261.8 523.5) scale(1 1.07)" fill="#000" >0</text>
<line x1="310.95" y1="508" x2="310.95" y2="511.5" stroke="#000" stroke-width="1" />
<text x="0" y="0" font-size="13" text-anchor="middle" transform="translate(311.35 523.5) scale(1 1.07)" fill="#000" >0.5</text>
<line x1="360.5" y1="508" x2="360.5" y2="511.5" stroke="#000" stroke-width="1" />
<text x="0" y="0" font-size="13" text-anchor="middle" transform="translate(360.9 523.5) scale(1 1.07)" fill="#000" >1</text>
<line x1="410.05" y1="508" x2="410.05" y2="511.5" stroke="#000" stroke-width="1" />
<text x="0" y="0" font-size="13" text-anchor="middle" transform="translate(410.45 523.5) scale(1 1.07)" fill="#000" >1.5</text>
<line x1="459.6" y1="508" x2="459.6" y2="511.5" stroke="#000" stroke-width="1" />
<text x="0" y="0" font-size="13" text-anchor="middle" transform="translate(460 523.5) scale(1 1.07)" fill="#000" >2</text>
<line x1="509.15" y1="508" x2="509.15" y2="511.5" stroke="#000" stroke-width="1" />
<text x="0" y="0" font-size="13" text-anchor="middle" transform="translate(509.55 523.5) scale(1 1.07)" fill="#000" >2.5</text>
<line x1="558.7" y1="508" x2="558.7" y2="511.5" stroke="#000" stroke-width="1" />
<text x="0" y="0" font-size="13" text-anchor="middle" transform="translate(559.1 523.5) scale(1 1.07)" fill="#000" >3</text>
<text x="0" y="0" font-size="14.9" text-anchor="middle" font-weight="bold" transform="translate(414.6 542.7) scale(1 1.06)" fill="#000" >Time (minutes)</text>
<text x="0" y="0" font-size="15" text-anchor="middle" font-weight="bold" transform="translate(233.5 415.9) rotate(-90) scale(1 0.93)" fill="#000" >Temperature difference (°C)</text>
<polyline points="261.9,503.3 262.5,506.6 265.5,506.7 269.3,506.6 270,501.8 270.9,500.5 273.5,499.2 275.4,497.7 278.6,496.4 281.1,495.1 283.1,492.5 285.9,488.7 286.9,486.5 287.5,482.7 288.2,478.8 289.4,476 291,473.3 292.8,470.1 294.6,467.6 296.9,466.4 297.8,465 299.2,463.2 300.2,461.8 301,458.5 302.7,454.2 304.9,449.8 307.3,446.8 310.9,446.5 313.1,445.7 314.7,443.2 316.9,441.3 319.6,439.1 321.6,437.7 323.3,435 327.7,434.5 328.8,432.9 331.5,432.1 334.2,429.6 335.9,427.2 337.5,425 339.2,422 340.8,419.5 343,416.2 345.5,412.7 347.1,412.3 349.4,414.1 351,413.3 352.7,410.5 354.9,410.3 357.6,409.2 359.2,406.4 364.2,406.4 364.7,404.8 368.5,404.5 369.4,402.9 371.6,399.2 376.6,399.1 379.3,394.7 383.1,393.1 384.2,391.4 389.7,391.4 392.4,390.1 395.5,387.4 397.3,385.5 399.7,385 400.8,382.1 401.6,378.5 402.3,374.8 403.8,371.9 405.2,369 407,365.7 408.5,363.5 410.7,363.5 412.2,361.3 414,359.9 415.8,357.7 417.6,356.7 423.2,356.6 424.1,354.6 425.9,353.7 430,353.7 430.9,352.3 433.2,352.3 434.1,353.5 436.4,354.1 438.2,356 441,356.9 442.3,355 444.2,354.1 446,354.6 447.8,352.3 450.5,351.5 453.2,350.8 454.6,352.1 457.3,352.6 460.5,352.8 463.7,354 465.5,356 467.8,357.4 469.6,356.2 471,354.9 473.3,353.7 474.4,351.7 474.9,350.5 476.9,349.6 478.5,348.3 479.4,346.4 480.7,344.6 483.9,344.4 485.3,342.3 488.5,341 489.9,339.4 492.1,338.7 494,339.6 496.2,339.8 498.5,338.7 499.9,336.2 502.2,334.9 503.4,333.3 505.6,332.4 507.8,331.3 510.9,331.1 511.5,329.5 512.8,329.5 513.9,331 515,329.7 517.2,329.3 519.3,329.6" fill="none" stroke="#000" stroke-width="1.15" stroke-linejoin="round"/>
<path d="M263 506.6 L269 506.6" stroke="#000" stroke-width="1.9"/>
<polyline points="262,506 270,505.8 290,505.6 296,505.2 298,503.5 300,504.2 303,503.3 320,502.8 355,502.6 358,501.5 383.5,501.2 384.5,499.5 412,499.4 413,498.5 447,498.4 448.5,497.1 476,497 477.5,496.1 518,495.9 519.5,496.5" fill="none" stroke="#000" stroke-width="1.1" stroke-dasharray="4 1.6"/>
<polyline points="262,506.5 300,506.3 320,505.4 330,506.1 345,506.1 350,505.3 380,505.1 450,504.9 516,505 518.5,507.3" fill="none" stroke="#000" stroke-width="1.0" stroke-dasharray="1.1 1.1"/>
<rect x="268.5" y="320.5" width="54" height="49.5" fill="#fff" stroke="#111" stroke-width="1"/>
<line x1="272.1" y1="329.6" x2="288.5" y2="329.6" stroke="#000" stroke-width="1" />
<line x1="272.1" y1="345.2" x2="288.5" y2="345.2" stroke="#000" stroke-width="1" stroke-dasharray="3.4 1.2"/>
<line x1="272.1" y1="361.1" x2="288.5" y2="361.1" stroke="#000" stroke-width="0.9" stroke-dasharray="1 0.8"/>
<text x="290.3" y="333.6" font-size="10" text-anchor="start" fill="#000" >AuND</text>
<text x="290.3" y="349.1" font-size="10" text-anchor="start" fill="#000" >ND</text>
<text x="290.3" y="364.5" font-size="10" text-anchor="start" fill="#000" >Water</text>
</svg>
</body></html>
